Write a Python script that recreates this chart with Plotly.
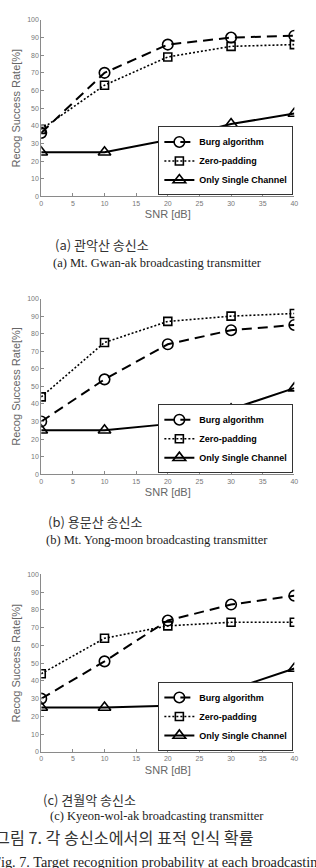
import plotly.graph_objects as go

W, H = 316, 868

snr = [0, 10, 20, 30, 40]
series_names = ["Burg algorithm", "Zero-padding", "Only Single Channel"]

# panel (a) Mt. Gwan-ak
a_burg = [36, 70, 86, 90, 91]
a_zero = [38, 63, 79, 85, 86]
a_single = [25, 25, 32, 41, 47]
# panel (b) Mt. Yong-moon
b_burg = [30, 54, 74, 82, 85]
b_zero = [44, 75, 87, 90, 91.5]
b_single = [25, 25, 28.5, 37, 49]
# panel (c) Kyeon-wol-ak
c_burg = [30, 51, 74, 83, 88]
c_zero = [44, 64, 71, 73, 73]
c_single = [25, 25, 26, 35, 47]

x_ticks = [0, 5, 10, 15, 20, 25, 30, 35, 40]
y_ticks = [0, 10, 20, 30, 40, 50, 60, 70, 80, 90, 100]

captions_ko = ["(a) 관악산 송신소", "(b) 용문산 송신소", "(c) 견월악 송신소"]
captions_en = ["(a) Mt. Gwan-ak broadcasting transmitter",
               "(b) Mt. Yong-moon broadcasting transmitter",
               "(c) Kyeon-wol-ak broadcasting transmitter"]
fig_title_ko = "그림 7. 각 송신소에서의 표적 인식 확률"
fig_title_en = "Fig. 7. Target recognition probability at each broadcasting transmitter"

panels = [(a_burg, a_zero, a_single), (b_burg, b_zero, b_single), (c_burg, c_zero, c_single)]

# pixel layout (top, bottom) of each plot area
ax_x = (40, 298)
ax_y = [(16, 194), (297, 474), (575, 754)]
cap_ko_y = [242, 522, 802]
cap_ko_x = [52, 45, 40]
cap_en_y = [261, 540, 819]

styles = [
    dict(line=dict(color="black", width=2, dash="10px,6px"),
         marker=dict(symbol="circle-open", size=10.5, color="black", line=dict(width=1.6))),
    dict(line=dict(color="black", width=1.6, dash="2px,2px"),
         marker=dict(symbol="square-open", size=8, color="black", line=dict(width=1.6))),
    dict(line=dict(color="black", width=2, dash="solid"),
         marker=dict(symbol="triangle-up-open", size=11, color="black", line=dict(width=1.6))),
]

def px(x):
    return x / W

def py(y):
    return 1 - y / H

fig = go.Figure()
layout = dict(width=W, height=H, margin=dict(l=0, r=0, t=0, b=0),
              paper_bgcolor="white", plot_bgcolor="white",
              font=dict(family="Arial, Liberation Sans, sans-serif", color="#555"))
annotations = []

for i, data in enumerate(panels):
    n = "" if i == 0 else str(i + 1)
    xa, ya = "x" + n, "y" + n
    lg = "legend" + n
    for j, vals in enumerate(data):
        fig.add_trace(go.Scatter(x=snr, y=vals, mode="lines+markers", name=series_names[j],
                                 xaxis=xa, yaxis=ya, legend=lg, **styles[j]))
    top, bot = ax_y[i]
    axis_common = dict(showgrid=False, zeroline=False, showline=True, linecolor="#8a8a8a",
                       linewidth=1, ticks="inside", ticklen=3, tickcolor="#8a8a8a",
                       tickfont=dict(size=7, color="#777"), mirror=False)
    layout["xaxis" + n] = dict(domain=[px(ax_x[0]), px(ax_x[1])], anchor=ya, range=[0, 40],
                               tickvals=x_ticks,
                               title=dict(text="SNR [dB]", font=dict(size=11, color="#666"), standoff=4),
                               **axis_common)
    layout["yaxis" + n] = dict(domain=[py(bot), py(top)], anchor=xa, range=[0, 100],
                               tickvals=y_ticks,
                               title=dict(text="Recog Success Rate[%]", font=dict(size=11, color="#666"), standoff=4),
                               **axis_common)
    layout[lg] = dict(x=px(ax_x[1] - 1), y=py(bot - 1), xanchor="right", yanchor="bottom",
                      bgcolor="white", bordercolor="#333", borderwidth=1,
                      font=dict(size=9, color="black", family="Arial, Liberation Sans, sans-serif", weight="bold"),
                      itemwidth=30, tracegroupgap=0)
    annotations.append(dict(text=captions_ko[i], x=px(cap_ko_x[i]), y=py(cap_ko_y[i]), xref="paper", yref="paper",
                            xanchor="left", yanchor="middle", showarrow=False,
                            font=dict(family="Noto Sans CJK KR", size=13, color="#333")))
    annotations.append(dict(text=captions_en[i], x=px(158), y=py(cap_en_y[i]), xref="paper", yref="paper",
                            xanchor="center", yanchor="middle", showarrow=False,
                            font=dict(family="Liberation Serif, Times New Roman, serif", size=12.5, color="#222")))

annotations.append(dict(text=fig_title_ko, x=px(259), y=py(840), xref="paper", yref="paper",
                        xanchor="right", yanchor="middle", showarrow=False,
                        font=dict(family="Noto Sans CJK KR", size=16.2, color="#333")))
annotations.append(dict(text=fig_title_en, x=px(-11), y=py(865), xref="paper", yref="paper",
                        xanchor="left", yanchor="middle", showarrow=False,
                        font=dict(family="Liberation Serif, Times New Roman, serif", size=14.3, color="#222")))

layout["annotations"] = annotations
layout["showlegend"] = True
fig.update_layout(**layout)
fig.write_html("out.html")
